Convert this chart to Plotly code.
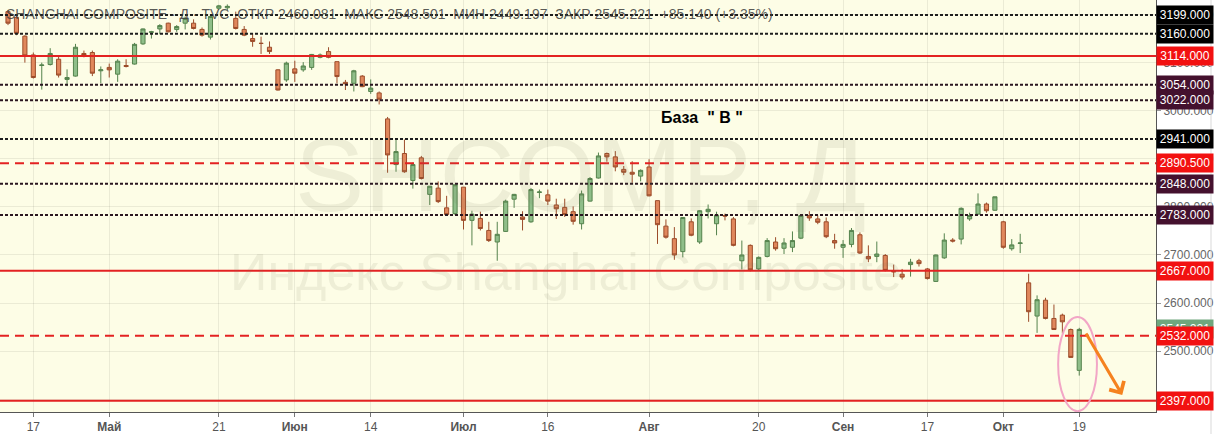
import plotly.graph_objects as go

# Торговые дни SHCOMP, 2018 (праздники пропущены)
MONTH_DAYS = {
    "2018-04": [12, 13, 16, 17, 18, 19, 20, 23, 24, 25, 26, 27],
    "2018-05": [2, 3, 4, 7, 8, 9, 10, 11, 14, 15, 16, 17, 18, 21, 22, 23, 24, 25, 28, 29, 30, 31],
    "2018-06": [1, 4, 5, 6, 7, 8, 11, 12, 13, 14, 15, 19, 20, 21, 22, 25, 26, 27, 28, 29],
    "2018-07": [2, 3, 4, 5, 6, 9, 10, 11, 12, 13, 16, 17, 18, 19, 20, 23, 24, 25, 26, 27, 30, 31],
    "2018-08": [1, 2, 3, 6, 7, 8, 9, 10, 13, 14, 15, 16, 17, 20, 21, 22, 23, 24, 27, 28, 29, 30, 31],
    "2018-09": [3, 4, 5, 6, 7, 10, 11, 12, 13, 14, 17, 18, 19, 20, 21, 25, 26, 27, 28],
    "2018-10": [8, 9, 10, 11, 12, 15, 16, 17, 18, 19],
}
DATES = [f"{m}-{d:02d}" for m, days in MONTH_DAYS.items() for d in days]

OPEN = [3206, 3194, 3155, 3116, 3094, 3096, 3107, 3065, 3072, 3119, 3121, 3083,
        3090, 3076, 3094, 3097, 3139, 3163, 3170, 3182, 3169, 3182, 3182, 3169, 3153,
        3213, 3214, 3192, 3169, 3150, 3140, 3132, 3085, 3064,
        3087, 3085, 3090, 3111, 3123, 3102, 3059, 3057, 3072, 3040, 3037, 2983, 2888,
        2911, 2855, 2902, 2826, 2839, 2798, 2786,
        2841, 2772, 2776, 2751, 2727, 2749, 2816, 2779, 2769, 2830, 2825, 2804, 2799,
        2790, 2765, 2812, 2860, 2911, 2904, 2878, 2872, 2864,
        2883, 2813, 2760, 2734, 2707, 2769, 2727, 2790, 2765, 2782, 2775, 2688, 2720,
        2671, 2697, 2727, 2714, 2716, 2735, 2782, 2775, 2769, 2730,
        2716, 2722, 2742, 2697, 2697, 2699, 2666, 2660, 2680, 2688, 2671, 2645, 2694,
        2731, 2733, 2775, 2785, 2806, 2793,
        2769, 2713, 2724, 2642, 2573, 2606, 2568, 2575, 2545, 2460.081]
HIGH = [3209, 3199, 3157, 3121, 3100, 3130, 3112, 3086, 3139, 3125, 3125, 3092,
        3098, 3107, 3107, 3141, 3171, 3166, 3180, 3183, 3178, 3196, 3190, 3173, 3199,
        3220, 3221, 3206, 3176, 3161, 3154, 3144, 3086, 3102,
        3104, 3101, 3118, 3119, 3132, 3102, 3064, 3085, 3074, 3065, 3040, 2987, 2943,
        2940, 2892, 2906, 2843, 2853, 2823, 2846,
        2841, 2792, 2790, 2769, 2769, 2815, 2827, 2791, 2839, 2836, 2836, 2817, 2817,
        2801, 2834, 2862, 2913, 2913, 2916, 2885, 2895, 2878,
        2899, 2813, 2774, 2758, 2779, 2776, 2793, 2805, 2790, 2786, 2779, 2730, 2722,
        2697, 2735, 2737, 2735, 2749, 2784, 2791, 2782, 2778, 2744,
        2731, 2756, 2747, 2720, 2728, 2702, 2680, 2671, 2692, 2692, 2673, 2701, 2745,
        2735, 2799, 2788, 2828, 2809, 2821,
        2771, 2733, 2744, 2661, 2616, 2611, 2597, 2578, 2547, 2548.501]
LOW = [3178, 3157, 3100, 3067, 3044, 3094, 3069, 3051, 3071, 3111, 3072, 3057,
       3069, 3060, 3090, 3096, 3137, 3150, 3159, 3163, 3164, 3169, 3169, 3154, 3148,
       3210, 3209, 3169, 3155, 3133, 3118, 3118, 3042, 3060,
       3060, 3081, 3085, 3109, 3109, 3057, 3043, 3040, 3049, 3035, 3013, 2871, 2873,
       2871, 2838, 2857, 2804, 2808, 2783, 2783,
       2753, 2720, 2751, 2727, 2688, 2748, 2798, 2751, 2767, 2818, 2804, 2775, 2779,
       2763, 2753, 2811, 2859, 2894, 2874, 2866, 2850, 2853,
       2822, 2723, 2734, 2690, 2695, 2739, 2723, 2776, 2741, 2772, 2718, 2670, 2666,
       2667, 2695, 2709, 2702, 2706, 2733, 2771, 2764, 2735, 2713,
       2694, 2716, 2702, 2685, 2685, 2666, 2654, 2649, 2655, 2676, 2649, 2644, 2692,
       2726, 2722, 2771, 2784, 2788, 2792,
       2713, 2709, 2704, 2561, 2538, 2566, 2544, 2537, 2487, 2449.197]
CLOSE = [3182, 3161, 3114, 3069, 3095, 3119, 3074, 3069, 3132, 3116, 3078, 3085,
         3085, 3103, 3092, 3138, 3170, 3164, 3177, 3164, 3175, 3192, 3171, 3157, 3196,
         3218, 3217, 3171, 3157, 3144, 3140, 3123, 3043, 3099,
         3078, 3093, 3117, 3116, 3111, 3071, 3056, 3083, 3050, 3047, 3024, 2908, 2915,
         2873, 2888, 2859, 2843, 2811, 2784, 2846,
         2772, 2785, 2755, 2730, 2743, 2812, 2826, 2774, 2836, 2831, 2812, 2796, 2784,
         2770, 2827, 2859, 2906, 2904, 2883, 2872, 2868, 2876,
         2823, 2763, 2737, 2700, 2778, 2741, 2792, 2795, 2783, 2781, 2720, 2700, 2669,
         2695, 2730, 2713, 2725, 2730, 2782, 2777, 2768, 2738, 2725,
         2722, 2751, 2704, 2692, 2702, 2668, 2665, 2654, 2685, 2682, 2651, 2700, 2731,
         2729, 2797, 2782, 2806, 2792, 2821,
         2716, 2721, 2725, 2582, 2607, 2568, 2545, 2561, 2487, 2545.221]

# Подписи оси времени
TICK_DATES = ["2018-04-17", "2018-05-02", "2018-05-21", "2018-06-01", "2018-06-14",
              "2018-07-02", "2018-07-16", "2018-08-01", "2018-08-20", "2018-09-03",
              "2018-09-17", "2018-10-08", "2018-10-19"]
TICK_LABELS = ["17", "Май", "21", "Июн", "14", "Июл", "16", "Авг", "20", "Сен", "17", "Окт", "19"]

# Горизонтальные уровни
LEVELS = [3199, 3160, 3114, 3054, 3022, 2941, 2890.5, 2848, 2783, 2667, 2532, 2397]
LEVEL_KIND = ["dot", "dot", "solid", "dot2", "dot2", "dot", "dash", "dot2", "dot2", "solid", "dash", "solid"]

LAST_CLOSE = 2545.221

STYLE = {
    "dot": dict(color="#1e1e1e", dash="3px,2px", bg="#000000"),
    "dot2": dict(color="#2a1620", dash="3px,2px", bg="#44112e"),
    "dash": dict(color="#e32222", dash="9px,6px", bg="#f21111"),
    "solid": dict(color="#e32222", dash="solid", bg="#f21111"),
}

FONT = "Liberation Sans, Arial, sans-serif"
Y_RANGE = [2373.5, 3230.2]
X_RANGE = [-0.95, 136.1]

fig = go.Figure()
fig.add_trace(go.Candlestick(
    x=DATES, open=OPEN, high=HIGH, low=LOW, close=CLOSE,
    increasing=dict(fillcolor="#8fbe89", line=dict(color="#55834d", width=1)),
    decreasing=dict(fillcolor="#e0875c", line=dict(color="#9c4c2a", width=1)),
    hoverinfo="skip", showlegend=False,
))

for lvl, kind in zip(LEVELS, LEVEL_KIND):
    st = STYLE[kind]
    fig.add_hline(y=lvl, line=dict(color=st["color"], width=2, dash=st["dash"]), layer="above")

# Ценовые метки справа
def price_label(y, text, bg):
    fig.add_annotation(
        xref="paper", yref="y", x=1, y=y, xanchor="left", yanchor="middle",
        text=text, showarrow=False, bgcolor=bg, width=52, borderpad=2,
        font=dict(family=FONT, size=12, color="white"),
    )

price_label(3234, "3234.000", "#000000")
price_label(LAST_CLOSE, f"{LAST_CLOSE:.3f}", "#6fa67d")
for lvl, kind in zip(LEVELS, LEVEL_KIND):
    price_label(lvl, f"{lvl:.3f}", STYLE[kind]["bg"])

# Водяной знак
fig.add_annotation(xref="paper", yref="paper", x=0.502, y=0.575, text="SHCOMP, Д",
                   showarrow=False, font=dict(family=FONT, size=104, color="rgba(120,120,90,0.11)"))
fig.add_annotation(xref="paper", yref="paper", x=0.49, y=0.34, text="Индекс Shanghai Composite",
                   showarrow=False, font=dict(family=FONT, size=52, color="rgba(120,120,90,0.11)"))

# Заголовок
fig.add_annotation(
    xref="paper", yref="paper", x=0, y=1, xanchor="left", yanchor="top", xshift=4, yshift=-4,
    text="SHANGHAI COMPOSITE · Д · TVC  ОТКР 2460.081  МАКС 2548.501  МИН 2449.197  "
         "ЗАКР 2545.221  +85.140 (+3.35%)",
    showarrow=False, font=dict(family=FONT, size=14, color="rgba(60,60,60,0.85)"),
)

fig.add_annotation(xref="paper", yref="y", x=0.607, y=2985, text="<b>База\u00a0\u00a0\" В \"</b>",
                   showarrow=False, font=dict(family=FONT, size=16, color="black"), xanchor="center")

# Овал и стрелка
fig.add_shape(type="circle", xref="x", yref="y", x0=124.5, x1=129.1, y0=2375, y1=2571,
              line=dict(color="#f2a6c6", width=2), layer="above")
fig.add_annotation(xref="x", yref="y", axref="x", ayref="y", x=132.1, y=2409, ax=127.7, ay=2540,
                   showarrow=True, arrowhead=4, arrowsize=1.1, arrowwidth=3, arrowcolor="#f5821f", text="")

# Правая граница области шкалы
fig.add_shape(type="line", xref="paper", yref="paper", x0=1211 / 1156, x1=1211 / 1156, y0=-22 / 412, y1=1,
              line=dict(color="#d9d9d9", width=1))

fig.update_layout(
    width=1215, height=434,
    margin=dict(l=0, r=59, t=0, b=22),
    paper_bgcolor="white",
    plot_bgcolor="#fdfde6",
    showlegend=False,
    font=dict(family=FONT),
    xaxis=dict(
        type="category", range=X_RANGE, rangeslider=dict(visible=False), automargin=False,
        tickvals=TICK_DATES,
        ticktext=[f"<b>{t}</b>" if not t.isdigit() else t for t in TICK_LABELS],
        tickfont=dict(size=12, color="#555"),
        ticks="outside", ticklen=4, tickcolor="#777",
        showgrid=True, gridcolor="rgba(0,0,0,0.07)",
        showline=True, linecolor="#555", linewidth=1,
    ),
    yaxis=dict(
        side="right", range=Y_RANGE, dtick=100, tick0=0, tickformat=".3f", automargin=False,
        tickfont=dict(size=12, color="#666"),
        ticks="outside", ticklen=4, tickcolor="#999",
        showgrid=True, gridcolor="rgba(0,0,0,0.07)",
        showline=True, linecolor="#555", linewidth=1, zeroline=False,
    ),
)

# убрать стандартный отступ body, чтобы график начинался с (0, 0)
fig.write_html("out.html", config={"displayModeBar": False},
               post_script="document.body.style.margin='0';")
